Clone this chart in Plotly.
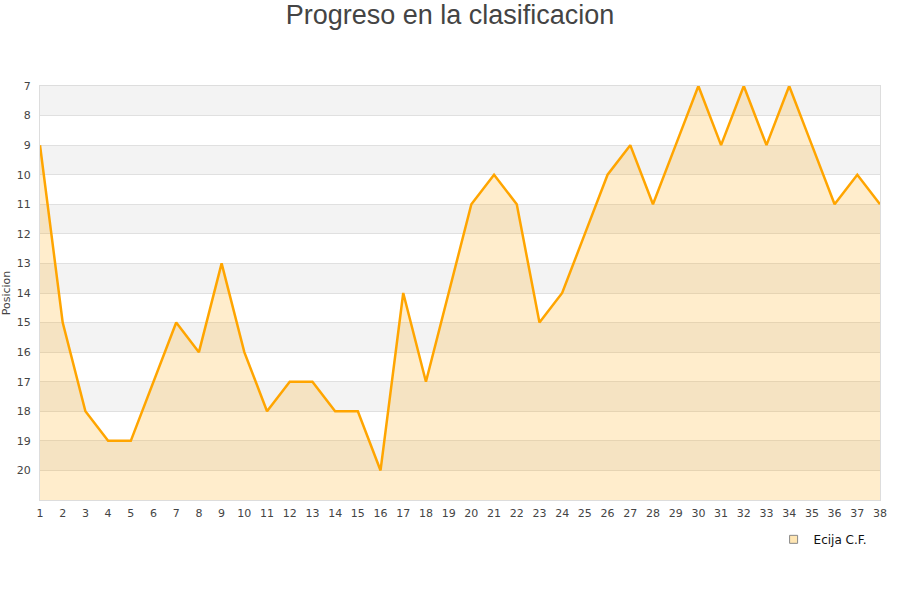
import plotly.graph_objects as go

# Posicion del Ecija C.F. por jornada
jornadas = list(range(1, 39))
posicion = [9, 15, 18, 19, 19, 17, 15, 16, 13, 16,
            18, 17, 17, 18, 18, 20, 14, 17, 14, 11,
            10, 11, 15, 14, 12, 10, 9, 11, 9, 7,
            9, 7, 9, 7, 9, 11, 10, 11]
equipo = 'Ecija C.F.'
y_ticks = list(range(7, 21))

fondo = 21  # base del area rellena (parte baja del eje invertido)

fig = go.Figure()

# linea base invisible para rellenar hasta abajo
fig.add_trace(go.Scatter(
    x=jornadas, y=[fondo] * len(jornadas),
    mode='lines', line=dict(width=0, color='rgba(0,0,0,0)'),
    showlegend=False, hoverinfo='skip'
))

fig.add_trace(go.Scatter(
    x=jornadas, y=posicion,
    mode='lines', line=dict(color='#FFA500', width=2.5),
    fill='tonexty', fillcolor='rgba(255,165,0,0.2)',
    name=equipo, showlegend=False
))

# entrada de leyenda con cuadrado
fig.add_trace(go.Scatter(
    x=[None], y=[None], mode='markers', name=equipo,
    marker=dict(symbol='square', size=8, color='#FFE6B3',
                line=dict(color='#888888', width=1))
))

# bandas alternas grises
for v in y_ticks[::2]:
    fig.add_shape(type='rect', xref='paper', yref='y', x0=0, x1=1,
                  y0=v, y1=v + 1, fillcolor='#F3F3F3', line_width=0,
                  layer='below')

fig.update_layout(
    width=900, height=600,
    margin=dict(l=40, r=20, t=86, b=100),
    paper_bgcolor='white', plot_bgcolor='white',
    font=dict(family='DejaVu Sans', size=11, color='#444444'),
    title=dict(text='Progreso en la clasificacion', x=0.5, xanchor='center',
               y=0.975, yanchor='middle',
               font=dict(family='Liberation Sans', size=27, color='#444444')),
    legend=dict(x=0.99, xanchor='right', y=-0.06, yanchor='top',
                font=dict(size=12, color='#111111'), bgcolor='rgba(0,0,0,0)'),
)

fig.update_xaxes(range=[1, 38], tickmode='array', tickvals=jornadas,
                 showgrid=False, zeroline=False, showline=True,
                 linecolor='#DDDDDD', mirror=True, ticks='', automargin=False,
                 ticklabelstandoff=3)
fig.update_yaxes(range=[21, 7], tickmode='array', tickvals=y_ticks,
                 showgrid=True, gridcolor='#E0E0E0', zeroline=False,
                 showline=True, linecolor='#DDDDDD', mirror=True, automargin=False,
                 ticklabelstandoff=6,
                 title=dict(text='Posicion', font=dict(size=11), standoff=4))

# quitar el margen por defecto del body para que el grafico empiece en 0,0
fig.write_html('out.html', config={'displayModeBar': False},
               post_script="document.body.style.margin='0';")
